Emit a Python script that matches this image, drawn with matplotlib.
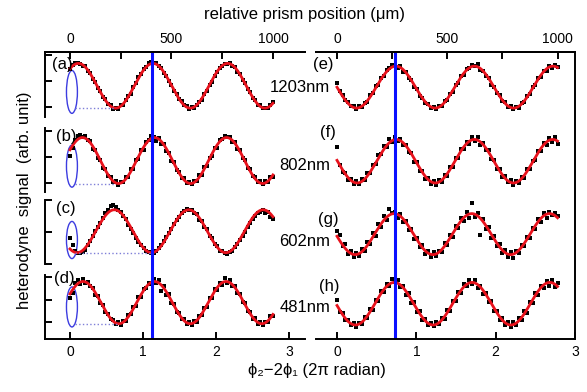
import numpy as np
import matplotlib.pyplot as plt
from matplotlib.patches import Ellipse

plt.rcParams['font.family'] = ['Liberation Sans', 'DejaVu Sans']

# =========================
# DATA
# =========================
# prism positions, 12.5 um steps; 1000 um of travel = 2.78 x (2 pi)
prism_um = np.arange(0, 1000.1, 12.5)
um_per_unit = 1000 / 2.78

left_tags = ['(a)', '(b)', '(c)', '(d)']
right_tags = ['(e)', '(f)', '(g)', '(h)']
wavelengths = ['1203nm', '802nm', '602nm', '481nm']

sig_a = [1.45, 1.61, 1.70, 1.70, 1.65, 1.56, 1.57, 1.39, 1.31, 1.06,
         0.97, 0.72, 0.61, 0.39, 0.31, 0.12, 0.08, -0.06, -0.02, -0.06,
         0.08, 0.09, 0.27, 0.43, 0.51, 0.77, 0.91, 1.14, 1.26, 1.46,
         1.53, 1.69, 1.72, 1.68, 1.71, 1.57, 1.50, 1.30, 1.21, 0.99,
         0.86, 0.61, 0.50, 0.29, 0.22, 0.06, 0.03, -0.06, -0.01, -0.04,
         0.09, 0.21, 0.27, 0.51, 0.61, 0.85, 0.96, 1.20, 1.33, 1.49,
         1.57, 1.67, 1.67, 1.69, 1.56, 1.53, 1.34, 1.26, 1.02, 0.91,
         0.68, 0.57, 0.34, 0.25, 0.09, 0.06, -0.05, -0.02, -0.05, 0.08,
         0.18]
sig_b = [1.02, 1.35, 1.67, 1.82, 1.85, 1.77, 1.82, 1.65, 1.62, 1.32,
         1.26, 0.95, 0.89, 0.59, 0.54, 0.27, 0.25, 0.04, 0.07, -0.06,
         0.04, 0.02, 0.23, 0.23, 0.53, 0.55, 0.87, 0.91, 1.26, 1.28,
         1.59, 1.64, 1.80, 1.78, 1.62, 1.74, 1.51, 1.50, 1.22, 1.16,
         0.85, 0.80, 0.49, 0.44, 0.19, 0.19, 0.01, 0.04, -0.05, 0.09,
         0.08, 0.29, 0.31, 0.60, 0.64, 0.98, 1.02, 1.35, 1.36, 1.64,
         1.69, 1.82, 1.77, 1.78, 1.57, 1.57, 1.30, 1.27, 0.95, 0.88,
         0.58, 0.53, 0.26, 0.24, 0.03, 0.07, -0.05, 0.06, 0.03, 0.22,
         0.25]
sig_c = [0.80, 0.58, 0.40, 0.33, 0.35, 0.38, 0.44, 0.60, 0.72, 0.86,
         1.02, 1.15, 1.28, 1.45, 1.58, 1.70, 1.80, 1.84, 1.78, 1.70,
         1.62, 1.50, 1.40, 1.22, 1.10, 0.96, 0.82, 0.70, 0.58, 0.50,
         0.40, 0.37, 0.34, 0.33, 0.40, 0.50, 0.60, 0.72, 0.85, 0.97,
         1.10, 1.25, 1.38, 1.48, 1.60, 1.66, 1.72, 1.68, 1.70, 1.58,
         1.55, 1.38, 1.34, 1.15, 1.08, 0.88, 0.80, 0.62, 0.55, 0.42,
         0.40, 0.33, 0.30, 0.36, 0.40, 0.52, 0.62, 0.75, 0.86, 1.00,
         1.15, 1.28, 1.40, 1.50, 1.60, 1.62, 1.68, 1.58, 1.62, 1.48,
         1.40]
sig_d = [1.05, 1.30, 1.75, 1.85, 1.70, 1.90, 1.72, 1.80, 1.58, 1.50,
         1.22, 1.15, 0.85, 0.75, 0.45, 0.36, 0.12, 0.08, -0.10, -0.02,
         -0.12, 0.05, 0.05, 0.30, 0.35, 0.68, 0.72, 1.10, 1.12, 1.48,
         1.50, 1.75, 1.70, 1.92, 1.72, 1.85, 1.40, 1.60, 1.20, 1.25,
         0.85, 0.82, 0.45, 0.42, 0.12, 0.14, -0.08, 0.00, -0.12, 0.04,
         0.02, 0.28, 0.30, 0.62, 0.68, 1.05, 1.08, 1.45, 1.42, 1.75,
         1.65, 1.95, 1.72, 1.85, 1.58, 1.62, 1.28, 1.25, 0.90, 0.85,
         0.50, 0.45, 0.15, 0.16, -0.08, 0.00, -0.14, 0.02, -0.02, 0.25,
         0.28]
sig_e = [0.92, 0.60, 0.45, 0.28, 0.18, 0.02, 0.03, -0.08, 0.02, -0.01,
         0.16, 0.20, 0.45, 0.52, 0.80, 0.85, 1.12, 1.18, 1.42, 1.50,
         1.60, 1.62, 1.50, 1.58, 1.35, 1.34, 1.10, 1.04, 0.76, 0.70,
         0.42, 0.36, 0.14, 0.12, -0.04, 0.01, -0.07, 0.04, 0.05, 0.22,
         0.26, 0.50, 0.58, 0.84, 0.92, 1.18, 1.22, 1.45, 1.50, 1.62,
         1.58, 1.66, 1.42, 1.40, 1.18, 1.12, 0.86, 0.78, 0.52, 0.45,
         0.22, 0.18, 0.00, 0.03, -0.08, 0.01, -0.02, 0.16, 0.20, 0.42,
         0.50, 0.76, 0.84, 1.10, 1.15, 1.40, 1.40, 1.58, 1.50, 1.62,
         1.52]
sig_f = [1.38, 0.70, 0.42, 0.38, 0.12, 0.15, -0.05, 0.06, -0.04, 0.14,
         0.10, 0.38, 0.40, 0.70, 0.74, 1.06, 1.10, 1.42, 1.38, 1.68,
         1.58, 1.78, 1.60, 1.70, 1.45, 1.48, 1.18, 1.15, 0.82, 0.80,
         0.48, 0.45, 0.16, 0.20, -0.03, 0.08, -0.06, 0.10, 0.04, 0.30,
         0.28, 0.60, 0.62, 0.95, 0.98, 1.30, 1.30, 1.58, 1.50, 1.75,
         1.60, 1.78, 1.48, 1.55, 1.25, 1.25, 0.92, 0.88, 0.55, 0.52,
         0.22, 0.26, 0.02, 0.10, -0.07, 0.08, 0.00, 0.24, 0.20, 0.52,
         0.52, 0.86, 0.88, 1.22, 1.22, 1.54, 1.45, 1.72, 1.56, 1.75,
         1.50]
sig_g = [1.02, 0.92, 0.55, 0.62, 0.30, 0.42, 0.22, 0.35, 0.25, 0.48,
         0.40, 0.70, 0.62, 0.98, 0.88, 1.25, 1.15, 1.50, 1.38, 1.72,
         1.60, 1.62, 1.45, 1.55, 1.30, 1.35, 1.05, 1.10, 0.78, 0.82,
         0.52, 0.58, 0.32, 0.42, 0.22, 0.36, 0.24, 0.42, 0.38, 0.65,
         0.58, 0.92, 0.85, 1.20, 1.12, 1.45, 1.35, 1.62, 1.45, 1.92,
         1.48, 1.60, 0.90, 1.42, 1.10, 1.15, 0.82, 0.88, 0.55, 0.62,
         0.35, 0.45, 0.22, 0.38, 0.18, 0.42, 0.35, 0.60, 0.55, 0.85,
         0.80, 1.12, 1.08, 1.40, 1.30, 1.58, 1.45, 1.62, 1.52, 1.60,
         1.50]
sig_h = [0.98, 0.45, 0.40, 0.10, 0.08, -0.15, -0.05, -0.22, -0.04, -0.08,
         0.22, 0.20, 0.58, 0.55, 0.98, 0.95, 1.38, 1.35, 1.70, 1.62,
         1.90, 1.78, 1.85, 1.55, 1.60, 1.22, 1.28, 0.85, 0.88, 0.45,
         0.48, 0.10, 0.15, -0.14, -0.05, -0.20, -0.02, -0.10, 0.20, 0.15,
         0.55, 0.50, 0.95, 0.92, 1.35, 1.30, 1.68, 1.58, 1.88, 1.70,
         1.85, 1.50, 1.62, 1.25, 1.30, 0.88, 0.92, 0.48, 0.50, 0.10,
         0.18, -0.12, 0.00, -0.22, -0.02, -0.14, 0.18, 0.10, 0.48, 0.42,
         0.88, 0.85, 1.28, 1.22, 1.62, 1.50, 1.82, 1.62, 1.85, 1.55,
         1.72]

left_signals = [sig_a, sig_b, sig_c, sig_d]
right_signals = [sig_e, sig_f, sig_g, sig_h]

# marked phase of each column (blue lines)
blue_x = [1.13, 0.73]
# ellipses around the start of the left traces (centre y, height)
ell_y = [0.58, 0.65, 0.75, 0.67]
ell_h = [1.65, 1.62, 1.16, 1.78]
# where the dotted minimum guide ends
guide_end = [0.62, 0.62, 1.12, 0.66]


def sine_fit(x, y):
    best = None
    for period in np.linspace(0.9, 1.1, 401):
        k = 2 * np.pi / period
        A = np.column_stack([np.ones_like(x), np.cos(k * x), np.sin(k * x)])
        coef = np.linalg.lstsq(A, y, rcond=None)[0]
        err = np.sum((A @ coef - y) ** 2)
        if best is None or err < best[0]:
            best = (err, period, coef)
    return best[1], best[2]


# =========================
# LAYOUT (pixels of the 587x392 picture)
# =========================
W, H = 587, 392


def box(x0, x1, y0, y1):
    return [x0 / W, 1 - y1 / H, (x1 - x0) / W, (y1 - y0) / H]


fig = plt.figure(figsize=(W / 100, H / 100), dpi=100)

col_px = [(45, 305), (316, 575)]
col_xlim = [(-0.342, 3.219), (-0.265, 3.0)]
row_px = [(52, 117), (128, 192), (200, 264), (275, 339)]
row_ylim = [(-0.385, 2.115), (-0.346, 2.115), (0.0, 2.0), (-0.756, 2.09)]

x = prism_um / um_per_unit
red = '#e8121c'

for col, signals in enumerate([left_signals, right_signals]):
    x0, x1 = col_px[col]
    for row, sig in enumerate(signals):
        y0, y1 = row_px[row]
        ax = fig.add_axes(box(x0, x1, y0, y1))
        ax.patch.set_alpha(0)
        ax.set_xlim(col_xlim[col])
        ax.set_ylim(row_ylim[row])
        for s in ['top', 'right', 'bottom']:
            ax.spines[s].set_visible(False)
        ax.set_xticks([])
        if col == 0:
            ax.spines['left'].set_linewidth(1.4)
            ax.set_yticks([0, 1, 2])
            ax.tick_params(axis='y', direction='in', length=5, width=1.4,
                           labelleft=False)
        else:
            ax.spines['left'].set_visible(False)
            ax.set_yticks([])

        y = np.array(sig)
        period, (c0, ca, cb) = sine_fit(x, y)
        xs = np.linspace(0, x.max(), 300)
        k = 2 * np.pi / period
        ax.plot(x, y, 's', ms=3.0, color='black', mew=0, clip_on=False)
        ax.plot(xs, c0 + ca * np.cos(k * xs) + cb * np.sin(k * xs),
                color=red, lw=2.0, clip_on=False)

        if col == 0:
            level = c0 - np.hypot(ca, cb)
            ax.plot([0.07, guide_end[row]], [level, level], ':',
                    color='#7f7fd8', lw=1.0)
            ax.add_patch(Ellipse((0.027, ell_y[row]), 0.15, ell_h[row],
                                 fill=False, ec='#3c3ce0', lw=1.0))

    # frame of the column: top / bottom axes and the blue marker
    big = fig.add_axes(box(x0, x1, 52, 339))
    big.patch.set_alpha(0)
    big.set_xlim(col_xlim[col])
    big.set_ylim(0, 1)
    big.set_yticks([])
    big.spines['left'].set_visible(False)
    big.spines['right'].set_visible(col == 1)
    for s in big.spines.values():
        s.set_linewidth(1.4)
    big.set_xticks([0, 1, 2, 3])
    big.tick_params(axis='x', direction='in', length=5, width=1.4,
                    labelsize=10, pad=4)
    big.axvline(blue_x[col], color='#0a10ff', lw=2.2)

    top = big.secondary_xaxis('top', functions=(lambda v: v * um_per_unit,
                                                lambda v: v / um_per_unit))
    top.set_xticks([0, 500, 1000])
    top.set_xticks([250, 750], minor=True)
    top.spines['top'].set_linewidth(1.4)
    top.tick_params(which='both', direction='in', length=5, width=1.4,
                    labelsize=10, pad=4)
    top.tick_params(which='minor', length=5)

# =========================
# TEXT
# =========================
def px_text(px, py, s, **kw):
    fig.text(px / W, 1 - py / H, s, **kw)


px_text(305, 14, 'relative prism position (μm)', ha='center', va='center',
        fontsize=12)
px_text(25, 200, 'heterodyne  signal  (arb. unit)', ha='center', va='center',
        rotation=90, fontsize=12)
px_text(317, 371, 'ϕ₂−2ϕ₁ (2π radian)', ha='center', va='center',
        fontsize=12)

left_tag_pos = [(62, 64), (66, 137), (66, 209), (64, 279)]
right_tag_pos = [(323, 65), (328, 132), (328, 220), (329, 287)]
label_y = [88, 165, 242, 308]
for i in range(4):
    px_text(*left_tag_pos[i], left_tags[i], ha='center', va='center',
            fontsize=12)
    px_text(*right_tag_pos[i], right_tags[i], ha='center', va='center',
            fontsize=12)
    px_text(330, label_y[i], wavelengths[i], ha='right', va='center',
            fontsize=12)

plt.savefig('out.png', dpi=100)
plt.close()
